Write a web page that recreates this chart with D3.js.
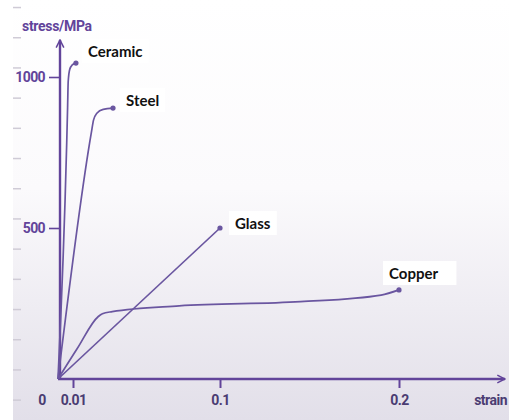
<!DOCTYPE html>
<html><head><meta charset="utf-8">
<script src="https://cdn.jsdelivr.net/npm/d3@7"></script>
<style>html,body{margin:0;padding:0;background:#fff;}svg{display:block;}</style>
</head><body>
<script>
// ---- data ----
const xTickValues = [0.01, 0.1, 0.2];
const xTickLabels = ["0.01", "0.1", "0.2"];
const yTickValues = [500, 1000];
const yTickLabels = ["500", "1000"];
const bgMarks = [-70, 30, 130, 230, 330, 430, 530, 630, 730, 830, 930, 1030, 1130, 1230];
const materials = ["Ceramic", "Steel", "Glass", "Copper"];
const ceramic = [[0,0],[0.0058,780],[0.0064,900],[0.0068,985],[0.0078,1025],[0.0095,1040],[0.0118,1046]];
const steel = [[0,0],[0.0212,815],[0.0226,858],[0.0246,880],[0.0285,893],[0.0345,897]];
const glass = [[0,0],[0.1,500]];
const copper = [[0,0],[0.0125,100],[0.0255,207],[0.0280,216],[0.034,223],[0.075,242],[0.145,256],[0.19,278],[0.2,295]];
const seriesData = [ceramic, steel, glass, copper];

const W = 509, H = 420;
const svg = d3.select("body").append("svg").attr("width", W).attr("height", H);
const defs = svg.append("defs");
const grad = defs.append("linearGradient").attr("id","bg").attr("x1",0).attr("y1",0).attr("x2",0).attr("y2",1);
grad.append("stop").attr("offset","0%").attr("stop-color","#ffffff");
grad.append("stop").attr("offset","45%").attr("stop-color","#fbfafc");
grad.append("stop").attr("offset","100%").attr("stop-color","#e2dfe9");
svg.append("rect").attr("x",0).attr("y",0).attr("width",W).attr("height",H).attr("fill","#fff");
svg.append("rect").attr("x",13).attr("y",0).attr("width",W-13).attr("height",H).attr("fill","url(#bg)");

const axisCol = "#62449a", lineCol = "#6a56a0";
const condFont = "Roboto, 'Liberation Sans', sans-serif";
const x = d3.scaleLinear().domain([0, 0.01, 0.1, 0.2]).range([58, 73, 220, 399]);
const y = d3.scaleLinear().domain([0, 1000]).range([379, 77]);

// background faint dashes
svg.append("g").selectAll("line").data(bgMarks).join("line")
  .attr("x1",13).attr("x2",21).attr("y1",d=>y(d)).attr("y2",d=>y(d))
  .attr("stroke","#cfcbd6").attr("stroke-width",1.5);

// arrow markers
defs.append("marker").attr("id","arr").attr("viewBox","0 0 10 10").attr("refX",9).attr("refY",5)
  .attr("markerWidth",4).attr("markerHeight",4).attr("orient","auto-start-reverse").attr("markerUnits","strokeWidth")
  .append("path").attr("d","M1,1 L9,5 L1,9").attr("fill","none").attr("stroke",axisCol).attr("stroke-width",1.6);

function styleText(sel, col, size, ls){
  sel.attr("fill",col).attr("font-size",size).attr("font-weight","bold").attr("font-family",condFont)
     .attr("letter-spacing",(ls===undefined?-0.6:ls)+"px");
}

// axes
const xAxis = d3.axisBottom(x).tickValues(xTickValues).tickFormat((d,i)=>xTickLabels[i]).tickSize(9).tickPadding(7);
const gx = svg.append("g").attr("transform",`translate(0,${y(0)})`).call(xAxis);
gx.select(".domain").remove();
gx.append("line").attr("x1",x(0)).attr("x2",505).attr("y1",0).attr("y2",0)
  .attr("stroke",axisCol).attr("stroke-width",2.4).attr("marker-end","url(#arr)");
gx.selectAll(".tick line").attr("stroke",axisCol).attr("stroke-width",2);
styleText(gx.selectAll(".tick text"), "#4a3c72", 14);
styleText(gx.append("text").attr("x",x(0)-16).attr("y",26).attr("text-anchor","middle").text("0"), "#4a3c72", 14);
styleText(gx.append("text").attr("x",507).attr("y",26).attr("text-anchor","end").text("strain"), "#4a3c72", 14, -0.5);

const yAxis = d3.axisLeft(y).tickValues(yTickValues).tickFormat((d,i)=>yTickLabels[i]).tickSize(11).tickPadding(4);
const gy = svg.append("g").attr("transform",`translate(${x(0)+2},0)`).call(yAxis);
gy.select(".domain").remove();
gy.append("line").attr("x1",0).attr("x2",0).attr("y1",y(0)).attr("y2",40)
  .attr("stroke",axisCol).attr("stroke-width",2.4).attr("marker-end","url(#arr)");
gy.selectAll(".tick line").attr("stroke",axisCol).attr("stroke-width",1.6);
styleText(gy.selectAll(".tick text"), axisCol, 14);
styleText(svg.append("text").attr("x",22).attr("y",31).text("stress/MPa"), axisCol, 14, -0.3);

// curves
const line = d3.line().x(d=>x(d[0])).y(d=>y(d[1])).curve(d3.curveMonotoneX);
const gs = svg.append("g");
seriesData.forEach((s,i)=>{
  gs.append("path").datum(s).attr("d", i===2 ? d3.line().x(d=>x(d[0])).y(d=>y(d[1]))(s) : line(s))
    .attr("fill","none").attr("stroke",lineCol).attr("stroke-width",1.7);
  const e = s[s.length-1];
  gs.append("circle").attr("cx",x(e[0])).attr("cy",y(e[1])).attr("r",2.6).attr("fill",lineCol);
});

// labels
const labelPos = [[88,57],[126,106],[235,229],[389,279]];
const gl = svg.append("g");
materials.forEach((m,i)=>{
  const t = gl.append("text").attr("x",labelPos[i][0]).attr("y",labelPos[i][1]).attr("fill","#111")
    .attr("font-size",15).attr("font-weight","bold").attr("font-family","Lato, 'Open Sans', sans-serif").text(m);
  const b = t.node().getBBox();
  gl.insert("rect", () => t.node()).attr("x",b.x-6).attr("y",b.y-3).attr("width",b.width+(i===3?24:12)).attr("height",b.height+6).attr("fill","#fff");
});
</script>
</body></html>
